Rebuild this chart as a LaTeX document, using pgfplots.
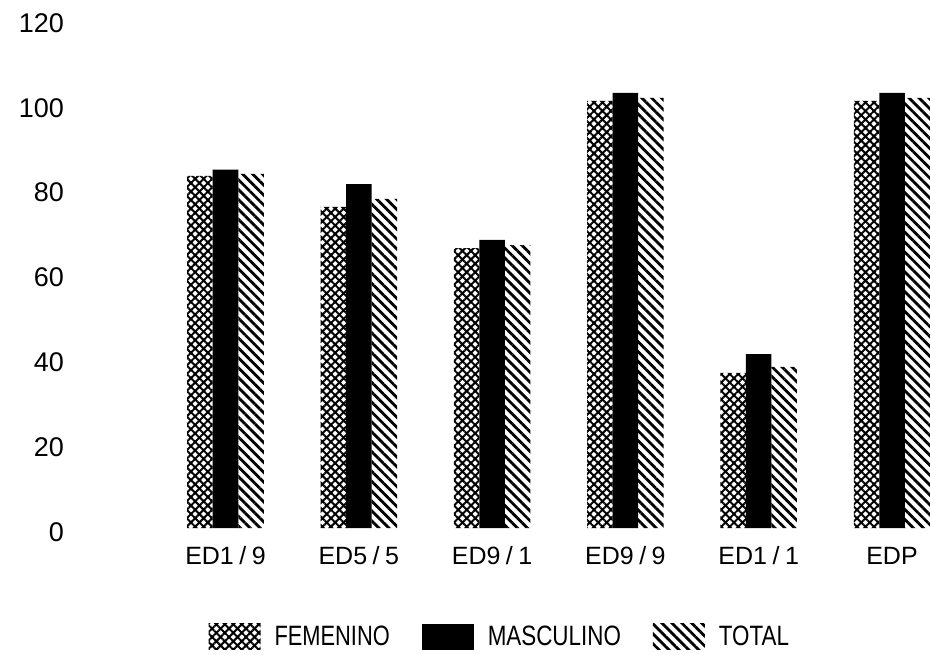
\documentclass[border=0pt]{standalone}
\usepackage{fontspec}
\setmainfont{Liberation Sans}
\usepackage{graphicx}
\usepackage{pgfplots}
\pgfplotsset{compat=1.18}
\usetikzlibrary{patterns.meta}
\begin{document}
\begin{tikzpicture}
\useasboundingbox (0,0) rectangle (465pt,327pt);
\begin{axis}[
  at={(37.5pt,63pt)}, anchor=south west,
  scale only axis, width=427.5pt, height=254.5pt,
  xmin=-1.129, xmax=5.285, ymin=0, ymax=120,
  ytick={0,20,...,120},
  xtick={0,1,2,3,4,5},
  xticklabels={ED1\hspace{0.22em}/\hspace{0.22em}9,ED5\hspace{0.22em}/\hspace{0.22em}5,ED9\hspace{0.22em}/\hspace{0.22em}1,ED9\hspace{0.22em}/\hspace{0.22em}9,ED1\hspace{0.22em}/\hspace{0.22em}1,EDP},
  axis line style={draw=none},
  major tick style={draw=none},
  xticklabel style={font=\fontsize{12.5}{14}\selectfont, text height=9pt, text depth=2pt, yshift=-1.5pt},
  yticklabel style={font=\fontsize{13.5}{15}\selectfont, xshift=-2pt, yshift=-2pt},
  /pgf/number format/assume math mode=true,
  ybar=0pt, bar width=12.75pt,
  every axis plot post/.append style={
    legend image code/.code={\fill[#1] (0pt,-6.5pt) rectangle (26pt,6.5pt);}},
  legend columns=3,
  legend style={at={(0.498,-0.214)}, anchor=center, draw=none, fill=none,
    font=\fontsize{14}{16}\selectfont,
    /tikz/every odd column/.append style={column sep=5pt},
    /tikz/every even column/.append style={column sep=14pt}},
]
\addplot[draw=none, pattern={Hatch[angle=45,distance=3pt,line width=1pt]}, pattern color=black]
  coordinates {(0,83.0) (1,75.7) (2,66.0) (3,100.7) (4,36.6) (5,100.7)};
\addplot[draw=none, fill=black]
  coordinates {(0,84.5) (1,81.1) (2,67.9) (3,102.6) (4,41.0) (5,102.6)};
\addplot[draw=none, pattern={Lines[angle=-45,distance=3.5pt,line width=1.4pt]}, pattern color=black]
  coordinates {(0,83.5) (1,77.6) (2,66.7) (3,101.4) (4,38.0) (5,101.4)};
\legend{\scalebox{0.78}[1]{FEMENINO},\scalebox{0.8}[1]{MASCULINO},\scalebox{0.8}[1]{TOTAL}}
\end{axis}
\end{tikzpicture}
\end{document}
